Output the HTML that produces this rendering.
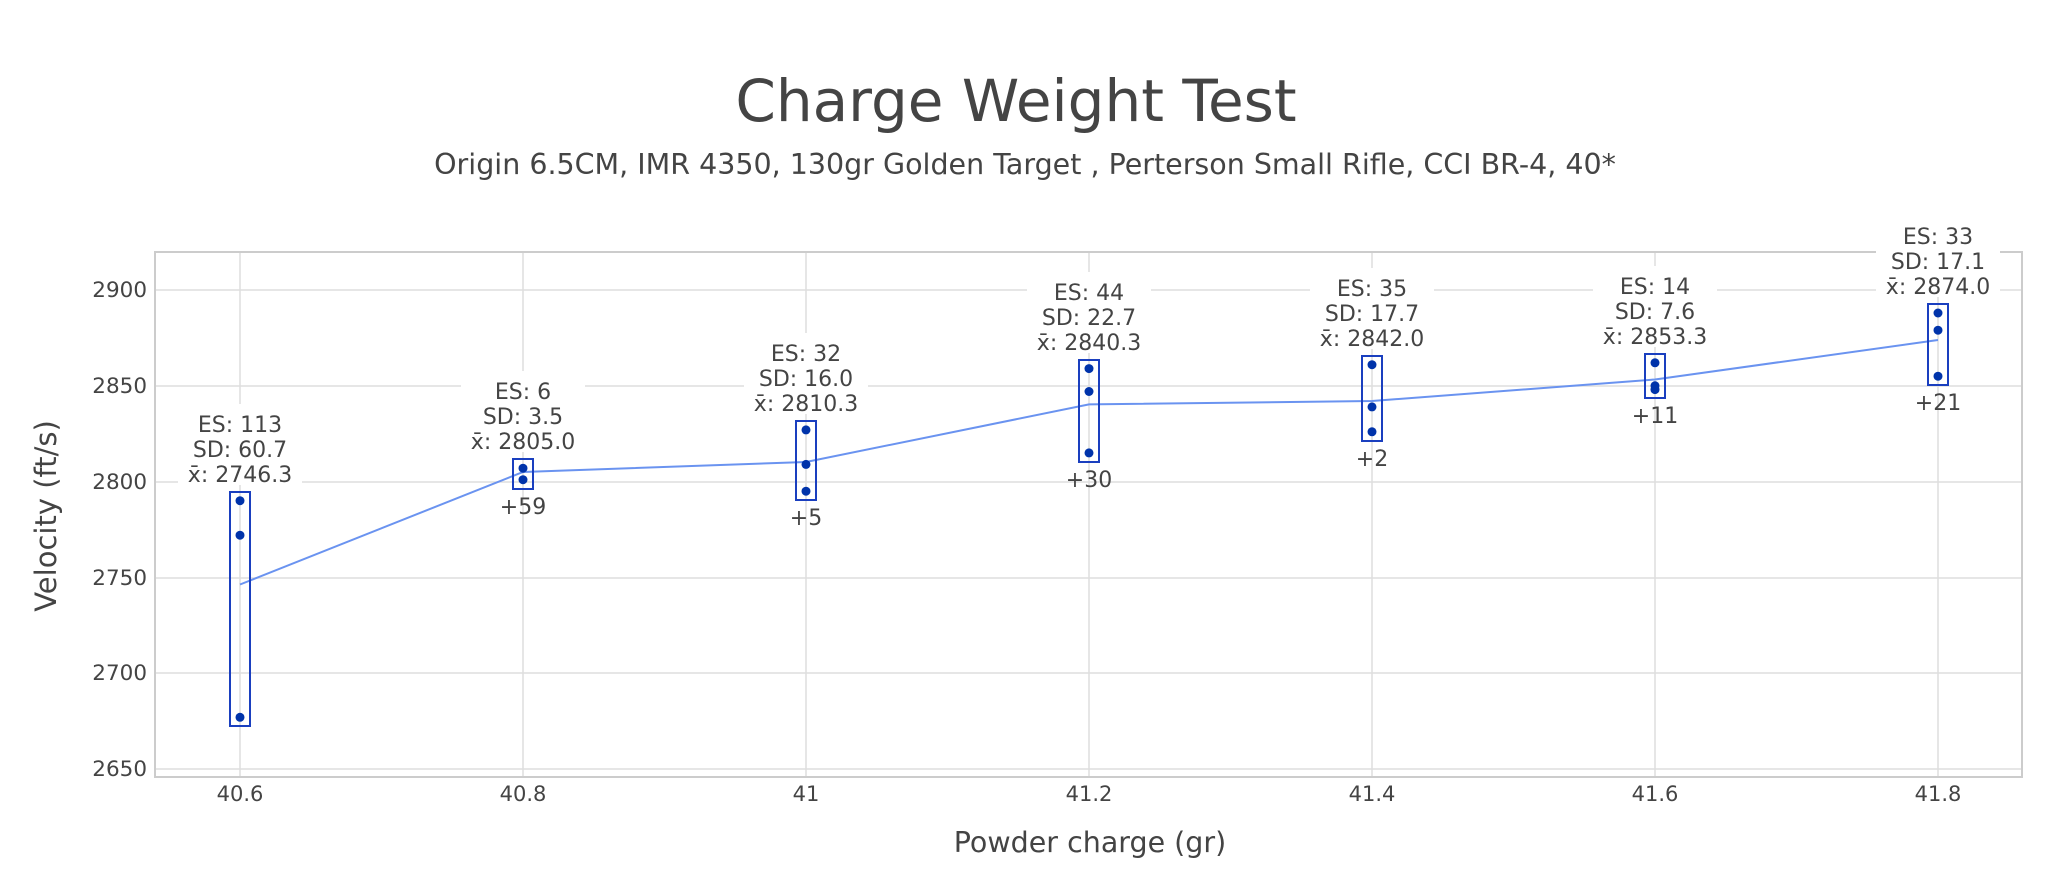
<!DOCTYPE html>
<html><head><meta charset="utf-8"><style>
html,body{margin:0;padding:0;background:#fff;}
svg{display:block;font-family:"DejaVu Sans","Liberation Sans",sans-serif;}
</style></head><body>
<svg width="2048" height="889" viewBox="0 0 2048 889" xmlns="http://www.w3.org/2000/svg">
<rect width="2048" height="889" fill="#fff"/>
<text x="1016" y="121" font-size="58" fill="#444" text-anchor="middle">Charge Weight Test</text>
<text x="1025" y="174" font-size="28.5" fill="#444" text-anchor="middle">Origin 6.5CM, IMR 4350, 130gr Golden Target , Perterson Small Rifle, CCI BR-4, 40*</text>
<g stroke="#dedede" stroke-width="1.5">
<line x1="155" y1="290" x2="2022" y2="290"/><line x1="155" y1="386" x2="2022" y2="386"/>
<line x1="155" y1="482" x2="2022" y2="482"/><line x1="155" y1="578" x2="2022" y2="578"/>
<line x1="155" y1="673" x2="2022" y2="673"/><line x1="155" y1="769" x2="2022" y2="769"/>
<line x1="240" y1="252" x2="240" y2="777"/><line x1="523" y1="252" x2="523" y2="777"/>
<line x1="806" y1="252" x2="806" y2="777"/><line x1="1089" y1="252" x2="1089" y2="777"/>
<line x1="1372" y1="252" x2="1372" y2="777"/><line x1="1655" y1="252" x2="1655" y2="777"/>
<line x1="1938" y1="252" x2="1938" y2="777"/>
</g>
<rect x="155" y="252" width="1867" height="525" fill="none" stroke="#ccc" stroke-width="2"/>
<g font-size="21.5" fill="#444" text-anchor="end">
<text x="147" y="297">2900</text><text x="147" y="393">2850</text><text x="147" y="489">2800</text>
<text x="147" y="585">2750</text><text x="147" y="680">2700</text><text x="147" y="776">2650</text>
</g>
<g font-size="21" fill="#444" text-anchor="middle">
<text x="240" y="801">40.6</text><text x="523" y="801">40.8</text><text x="806" y="801">41</text>
<text x="1089" y="801">41.2</text><text x="1372" y="801">41.4</text><text x="1655" y="801">41.6</text><text x="1938" y="801">41.8</text>
</g>
<text x="1090" y="852" font-size="28.5" fill="#444" text-anchor="middle">Powder charge (gr)</text>
<text transform="translate(56,516) rotate(-90)" font-size="29" fill="#444" text-anchor="middle">Velocity (ft/s)</text>
<polyline points="240,584.5 523,472 806,462 1089,404.4 1372,401 1655,379.5 1938,340" fill="none" stroke="#6a93f0" stroke-width="2"/>
<g fill="none" stroke="#1a3fbf" stroke-width="2">
<rect x="230" y="492" width="20" height="234"/>
<rect x="513" y="459" width="20" height="30"/>
<rect x="796" y="421" width="20" height="79"/>
<rect x="1079" y="360" width="20" height="102"/>
<rect x="1362" y="356" width="20" height="85"/>
<rect x="1645" y="354" width="20" height="44"/>
<rect x="1928" y="304" width="20" height="81"/>
</g>
<g fill="#0033aa">
<circle cx="240" cy="500.7" r="4.5"/><circle cx="240" cy="535.2" r="4.5"/><circle cx="240" cy="717.3" r="4.5"/>
<circle cx="523" cy="468.2" r="4.5"/><circle cx="523" cy="479.7" r="4.5"/>
<circle cx="806" cy="429.9" r="4.5"/><circle cx="806" cy="464.4" r="4.5"/><circle cx="806" cy="491.2" r="4.5"/>
<circle cx="1089" cy="368.6" r="4.5"/><circle cx="1089" cy="391.5" r="4.5"/><circle cx="1089" cy="452.9" r="4.5"/>
<circle cx="1372" cy="364.7" r="4.5"/><circle cx="1372" cy="406.9" r="4.5"/><circle cx="1372" cy="431.8" r="4.5"/>
<circle cx="1655" cy="362.8" r="4.5"/><circle cx="1655" cy="385.8" r="4.5"/><circle cx="1655" cy="389.6" r="4.5"/>
<circle cx="1938" cy="313" r="4.5"/><circle cx="1938" cy="330.2" r="4.5"/><circle cx="1938" cy="376.2" r="4.5"/>
</g>
<g font-size="22" fill="#444" text-anchor="middle">
<g transform="translate(240,492)"><rect x="-62" y="-88" width="124" height="81" fill="#fff"/><text y="-60">ES: 113</text><text y="-35">SD: 60.7</text><text y="-10">x̄: 2746.3</text></g>
<g transform="translate(523,459)"><rect x="-62" y="-88" width="124" height="81" fill="#fff"/><text y="-60">ES: 6</text><text y="-35">SD: 3.5</text><text y="-10">x̄: 2805.0</text></g>
<g transform="translate(806,421)"><rect x="-62" y="-88" width="124" height="81" fill="#fff"/><text y="-60">ES: 32</text><text y="-35">SD: 16.0</text><text y="-10">x̄: 2810.3</text></g>
<g transform="translate(1089,360)"><rect x="-62" y="-88" width="124" height="81" fill="#fff"/><text y="-60">ES: 44</text><text y="-35">SD: 22.7</text><text y="-10">x̄: 2840.3</text></g>
<g transform="translate(1372,356)"><rect x="-62" y="-88" width="124" height="81" fill="#fff"/><text y="-60">ES: 35</text><text y="-35">SD: 17.7</text><text y="-10">x̄: 2842.0</text></g>
<g transform="translate(1655,354)"><rect x="-62" y="-88" width="124" height="81" fill="#fff"/><text y="-60">ES: 14</text><text y="-35">SD: 7.6</text><text y="-10">x̄: 2853.3</text></g>
<g transform="translate(1938,304)"><rect x="-62" y="-88" width="124" height="81" fill="#fff"/><text y="-60">ES: 33</text><text y="-35">SD: 17.1</text><text y="-10">x̄: 2874.0</text></g>
<text x="523" y="514">+59</text>
<text x="806" y="525">+5</text>
<text x="1089" y="487">+30</text>
<text x="1372" y="466">+2</text>
<text x="1655" y="423">+11</text>
<text x="1938" y="410">+21</text>
</g>
</svg>
</body></html>
